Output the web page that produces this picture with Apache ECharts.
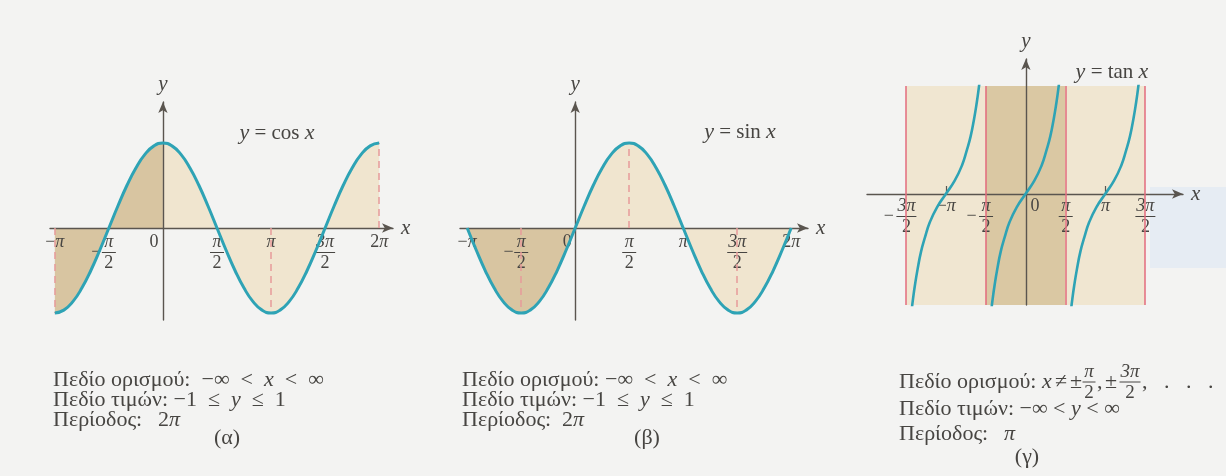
<!DOCTYPE html>
<html>
<head>
<meta charset="utf-8">
<script src="https://cdn.jsdelivr.net/npm/echarts@6/dist/echarts.min.js"></script>
<style>
  html, body { margin: 0; padding: 0; background: #f3f3f2; }
  #chart { width: 1226px; height: 476px; }
</style>
</head>
<body>
<div id="chart"></div>
<script>
// ---- data ---------------------------------------------------------------
// sample angles (degrees) for the cosine and sine curves
const angles = [-180, -165, -150, -135, -120, -105, -90, -75, -60, -45, -30, -15, 0,
  15, 30, 45, 60, 75, 90, 105, 120, 135, 150, 165, 180,
  195, 210, 225, 240, 255, 270, 285, 300, 315, 330, 345, 360];
const cosValues = [-1, -0.966, -0.866, -0.707, -0.5, -0.259, 0, 0.259, 0.5, 0.707, 0.866, 0.966, 1,
  0.966, 0.866, 0.707, 0.5, 0.259, 0, -0.259, -0.5, -0.707, -0.866, -0.966, -1,
  -0.966, -0.866, -0.707, -0.5, -0.259, 0, 0.259, 0.5, 0.707, 0.866, 0.966, 1];
const sinValues = [0, -0.259, -0.5, -0.707, -0.866, -0.966, -1, -0.966, -0.866, -0.707, -0.5, -0.259, 0,
  0.259, 0.5, 0.707, 0.866, 0.966, 1, 0.966, 0.866, 0.707, 0.5, 0.259, 0,
  -0.259, -0.5, -0.707, -0.866, -0.966, -1, -0.966, -0.866, -0.707, -0.5, -0.259, 0];

// one branch of the tangent: offset from the branch centre (degrees) and value
const tanOffsets = [-78, -74, -70, -64, -56, -47, -36, -20, 0, 20, 36, 47, 56, 64, 70, 74, 78];
const tanValues = [-3.3, -2.9, -2.55, -2.1, -1.6, -1.2, -0.78, -0.37, 0, 0.37, 0.78, 1.2, 1.6, 2.1, 2.55, 2.9, 3.3];
const tanCentres = [-180, 0, 180];
const tanAsymptotes = [-270, -90, 90, 270];
const tanMinorTicks = [-180, 180];

// dashed guides from the x axis to the curve
const cosGuides = [-180, 180, 360];
const sinGuides = [-90, 90, 270];

// x-axis ticks (degrees) and their labels
const trigTicks = [-180, -90, 0, 90, 180, 270, 360];
const trigTickLabels = ['−π', '−π/2', '0', 'π/2', 'π', '3π/2', '2π'];
const tanTicks = [-270, -180, -90, 0, 90, 180, 270];
const tanTickLabels = ['−3π/2', '−π', '−π/2', '0', 'π/2', 'π', '3π/2'];

// ---- styling ------------------------------------------------------------
const SERIF = '"Liberation Serif", "DejaVu Serif", serif';
const INK = '#474542';
const AXIS = '#5a554f';
const TEAL = '#2ea3b5';
const DASH_RED = '#e69a9a';
const ASYM_RED = '#e36b7c';
const FILL_DARK = '#d8c5a1';
const FILL_LIGHT = '#f0e5cf';
const TAN_DARK = '#dac8a3';
const TAN_LIGHT = '#f0e6d1';

const pairs = (xs, ys) => xs.map((x, i) => [x, ys[i]]);
const valueAt = (xs, ys, a) => ys[xs.indexOf(a)];

const cosPts = pairs(angles, cosValues);
const sinPts = pairs(angles, sinValues);
const tanBranches = tanCentres.map(c => tanOffsets.map((o, i) => [c + o, tanValues[i]]));

// rich-text tick label: fractions are stacked numerator / bar / denominator
function tickMarkup(s) {
  if (s === '0') return '{z|0}';
  const neg = s[0] === '−';
  const body = neg ? s.slice(1) : s;
  if (body.indexOf('/') < 0) {
    const coef = body.slice(0, -1);
    return (neg ? '{t|−}' : '') + (coef ? '{t|' + coef + '}' : '') + '{p|π}';
  }
  const parts = body.split('/');
  const wide = parts[0].length > 1;
  const n = wide ? 'N' : 'n', d = wide ? 'D' : 'd', b = wide ? 'B' : 'b';
  if (!neg) return '{' + n + '|' + parts[0] + '}\n{' + b + '|}\n{' + d + '|' + parts[1] + '}';
  return '{s|}{' + n + '|' + parts[0] + '}{s|}\n{m|−}{' + b + '|}{S|}\n{s|}{' + d + '|' + parts[1] + '}{s|}';
}

function tickRich(zeroPad, minusW) {
  const base = { fontFamily: SERIF, fontSize: 18, color: INK };
  return {
    p: Object.assign({}, base, { fontStyle: 'italic', lineHeight: 16 }),
    t: Object.assign({}, base, { lineHeight: 16 }),
    n: Object.assign({}, base, { fontStyle: 'italic', width: 16, align: 'center', lineHeight: 16 }),
    N: Object.assign({}, base, { fontStyle: 'italic', width: 22, align: 'center', lineHeight: 16 }),
    d: Object.assign({}, base, { width: 16, align: 'center', lineHeight: 16 }),
    D: Object.assign({}, base, { width: 22, align: 'center', lineHeight: 16 }),
    b: { width: 14, height: 1, backgroundColor: INK, lineHeight: 5 },
    B: { width: 20, height: 1, backgroundColor: INK, lineHeight: 5 },
    m: Object.assign({}, base, { width: minusW, align: 'center', lineHeight: 5 }),
    s: { width: minusW, lineHeight: 16 },
    S: { width: minusW, lineHeight: 5 },
    z: Object.assign({}, base, { lineHeight: 16, padding: zeroPad })
  };
}

const arrowLine = {
  onZero: true,
  symbol: ['none', 'arrow'],
  symbolSize: [7, 11],
  lineStyle: { color: AXIS, width: 1.4 }
};
const nameStyle = { fontFamily: SERIF, fontStyle: 'italic', fontSize: 21, color: INK };

// visible x axis sitting on the bottom edge of a strip whose bottom is y = 0
function xAxisCfg(gridIndex, min, max, ticks, labels, zeroPad, minusW, margin, tickCfg) {
  return {
    gridIndex, type: 'value', min, max, z: 3, position: 'bottom',
    axisLine: Object.assign({}, arrowLine, { onZero: false }),
    splitLine: { show: false },
    axisTick: tickCfg || { show: false },
    axisLabel: {
      customValues: ticks,
      margin,
      verticalAlign: 'top',
      formatter: v => tickMarkup(labels[ticks.indexOf(v)]),
      rich: tickRich(zeroPad, minusW)
    },
    name: 'x', nameLocation: 'end', nameGap: 8, nameTextStyle: nameStyle
  };
}
function yAxisCfg(gridIndex, min, max) {
  return {
    gridIndex, type: 'value', min, max, z: 3,
    axisLine: arrowLine,
    splitLine: { show: false },
    axisTick: { show: false },
    axisLabel: { show: false },
    name: 'y', nameLocation: 'end', nameGap: 7, nameTextStyle: nameStyle
  };
}
const hiddenAxis = (gridIndex, min, max) => ({ gridIndex, type: 'value', min, max, show: false });

function guideLines(xs, ys, guides) {
  return {
    silent: true, symbol: ['none', 'none'], label: { show: false },
    lineStyle: { type: [7, 5], color: DASH_RED, width: 1.5 },
    data: guides.map(a => [{ coord: [a, 0] }, { coord: [a, valueAt(xs, ys, a)] }])
  };
}

function waveSeries(axisIndex, pts, xs, ys, guides) {
  return [
    { type: 'line', xAxisIndex: axisIndex, yAxisIndex: axisIndex, data: pts.filter(p => p[0] <= 0),
      smooth: true, symbol: 'none', lineStyle: { width: 0 }, areaStyle: { color: FILL_DARK, opacity: 1 },
      z: 1, markLine: guideLines(xs, ys, guides) },
    { type: 'line', xAxisIndex: axisIndex, yAxisIndex: axisIndex, data: pts.filter(p => p[0] >= 0),
      smooth: true, symbol: 'none', lineStyle: { width: 0 }, areaStyle: { color: FILL_LIGHT, opacity: 1 }, z: 1 },
    { type: 'line', xAxisIndex: axisIndex, yAxisIndex: axisIndex, data: pts,
      smooth: true, symbol: 'none', lineStyle: { color: TEAL, width: 3 }, z: 6 }
  ];
}

// ---- captions -----------------------------------------------------------
const TXT = 22;
const SP = '\u00a0 ';   // a slightly wider gap around relations
const capRich = {
  i: { fontFamily: SERIF, fontSize: TXT, fontStyle: 'italic', fill: INK }
};
const graphics = [
  { type: 'rect', shape: { x: 1150, y: 187, width: 76, height: 81 }, style: { fill: '#e6ecf3' }, z: -10, silent: true }
];
function addText(x, y, markup, align, size) {
  graphics.push({
    type: 'text', x, y, silent: true, z: 10,
    style: { text: markup, rich: capRich, fontFamily: SERIF, fontSize: size || TXT, fill: INK,
      align: align || 'left', verticalAlign: 'middle' }
  });
}
function addFraction(cx, y, num, den, w) {
  graphics.push({ type: 'text', x: cx, y: y - 10, silent: true, z: 10,
    style: { text: num, fontFamily: SERIF, fontSize: 19, fontStyle: 'italic', fill: INK, align: 'center', verticalAlign: 'middle' } });
  graphics.push({ type: 'line', silent: true, z: 10,
    shape: { x1: cx - w / 2, y1: y, x2: cx + w / 2, y2: y }, style: { stroke: INK, lineWidth: 1 } });
  graphics.push({ type: 'text', x: cx, y: y + 11, silent: true, z: 10,
    style: { text: den, fontFamily: SERIF, fontSize: 19, fill: INK, align: 'center', verticalAlign: 'middle' } });
}

// curve names
addText(277, 133, '{i|y} = cos {i|x}', 'center', 21);
addText(740, 132, '{i|y} = sin {i|x}', 'center', 21);
addText(1112, 72, '{i|y} = tan {i|x}', 'center', 21);

// (α)
addText(53, 380, 'Πεδίο ορισμού:  −∞' + SP + '<' + SP + '{i|x}' + SP + '<' + SP + '∞');
addText(53, 400, 'Πεδίο τιμών: −1' + SP + '≤' + SP + '{i|y}' + SP + '≤' + SP + '1');
addText(53, 420, 'Περίοδος:');
addText(158, 420, '2{i|π}');
addText(227, 438, '(α)', 'center');
// (β)
addText(462, 380, 'Πεδίο ορισμού: −∞' + SP + '<' + SP + '{i|x}' + SP + '<' + SP + '∞');
addText(462, 400, 'Πεδίο τιμών: −1' + SP + '≤' + SP + '{i|y}' + SP + '≤' + SP + '1');
addText(462, 420, 'Περίοδος:');
addText(562, 420, '2{i|π}');
addText(647, 438, '(β)', 'center');
// (γ)
addText(899, 382, 'Πεδίο ορισμού:');
addText(1042, 382, '{i|x}');
addText(1055, 382, '≠');
addText(1070, 382, '±');
addFraction(1089, 382, 'π', '2', 13);
addText(1097, 382, ',');
addText(1105, 382, '±');
addFraction(1130, 382, '3π', '2', 21);
addText(1142, 382, ',\u00a0\u00a0\u00a0.\u00a0\u00a0\u00a0.\u00a0\u00a0\u00a0.');
addText(899, 409, 'Πεδίο τιμών: −∞ < {i|y} < ∞');
addText(899, 434, 'Περίοδος:');
addText(1004, 434, '{i|π}');
addText(1027, 457, '(γ)', 'center');

// ---- chart --------------------------------------------------------------
const chart = echarts.init(document.getElementById('chart'), null, { renderer: 'canvas' });
chart.setOption({
  backgroundColor: '#f3f3f2',
  animation: false,
  grid: [
    { left: 50, top: 102, width: 343, height: 218 },   // 0 cos plot
    { left: 460, top: 102, width: 348, height: 218 },  // 1 sin plot
    { left: 867, top: 59, width: 316, height: 246 },   // 2 tan vertical axis
    { left: 906, top: 86, width: 239, height: 219 },   // 3 tan plotting strip
    { left: 50, top: 102, width: 343, height: 126 },   // 4 cos x-axis strip (bottom at y = 0)
    { left: 460, top: 102, width: 348, height: 126 },  // 5 sin x-axis strip
    { left: 867, top: 59, width: 316, height: 135 }    // 6 tan x-axis strip
  ],
  xAxis: [
    hiddenAxis(0, -188, 383),
    hiddenAxis(1, -192, 388),
    hiddenAxis(2, -359, 355),
    hiddenAxis(3, -270, 270),
    xAxisCfg(4, -188, 383, trigTicks, trigTickLabels, [0, 18, 0, 0], 11, 6),
    xAxisCfg(5, -192, 388, trigTicks, trigTickLabels, [0, 16, 0, 0], 11, 6),
    xAxisCfg(6, -359, 355, tanTicks, tanTickLabels, [0, 0, 0, 18], 15, 4,
      { show: true, customValues: tanMinorTicks, inside: true, length: 8, lineStyle: { color: AXIS, width: 1.2 } })
  ],
  yAxis: [
    yAxisCfg(0, -1.082, 1.482),
    yAxisCfg(1, -1.082, 1.482),
    yAxisCfg(2, -3.083, 3.75),
    hiddenAxis(3, -3.083, 3.0),
    hiddenAxis(4, 0, 1),
    hiddenAxis(5, 0, 1),
    hiddenAxis(6, 0, 1)
  ],
  series: [
    ...waveSeries(0, cosPts, angles, cosValues, cosGuides),
    ...waveSeries(1, sinPts, angles, sinValues, sinGuides),
    {
      type: 'line', xAxisIndex: 3, yAxisIndex: 3, data: [], z: 1,
      markArea: {
        silent: true,
        data: [
          [{ xAxis: tanAsymptotes[0], itemStyle: { color: TAN_LIGHT } }, { xAxis: tanAsymptotes[1] }],
          [{ xAxis: tanAsymptotes[1], itemStyle: { color: TAN_DARK } }, { xAxis: tanAsymptotes[2] }],
          [{ xAxis: tanAsymptotes[2], itemStyle: { color: TAN_LIGHT } }, { xAxis: tanAsymptotes[3] }]
        ]
      },
      markLine: {
        silent: true, symbol: ['none', 'none'], label: { show: false },
        lineStyle: { type: 'solid', color: ASYM_RED, width: 1.5 },
        data: tanAsymptotes.map(a => ({ xAxis: a }))
      }
    },
    ...tanBranches.map(b => ({
      type: 'line', xAxisIndex: 3, yAxisIndex: 3, data: b, smooth: true, symbol: 'none',
      lineStyle: { color: TEAL, width: 2.6 }, z: 6
    }))
  ],
  graphic: graphics
});
</script>
</body>
</html>
